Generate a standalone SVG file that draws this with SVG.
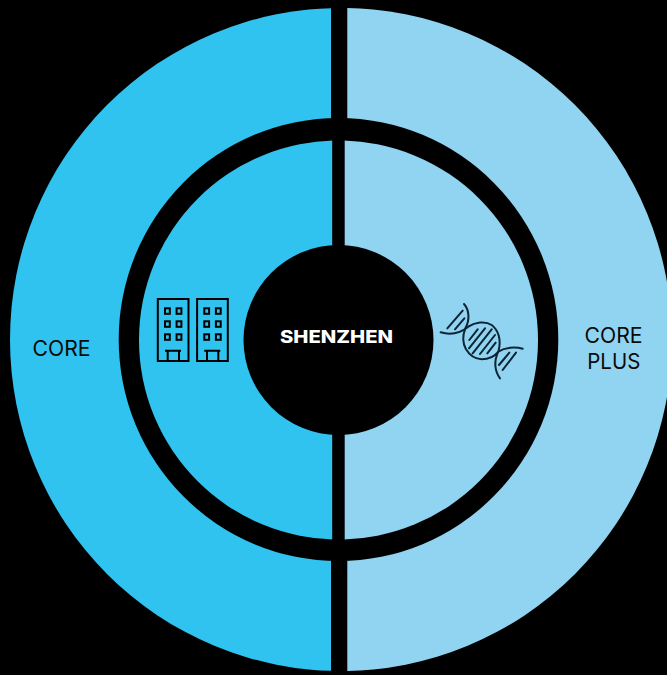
<svg xmlns="http://www.w3.org/2000/svg" width="667" height="675" viewBox="0 0 667 675">
<style>
.l{fill:#30c3ef}.r{fill:#90d4f1}
text{font-family:Inter,"Liberation Sans",Arial,sans-serif;font-size:21px;fill:#0a0a0a;text-anchor:middle}
.ic{fill:none;stroke:#000;stroke-width:2}
.dna{fill:none;stroke:#0c2433;stroke-width:6;stroke-linecap:round}
</style>
<defs>
<clipPath id="cl"><rect x="0" y="0" width="331" height="675"/></clipPath>
<clipPath id="cr"><rect x="347.300" y="0" width="320" height="675"/></clipPath>
<clipPath id="il"><rect x="0" y="0" width="332.200" height="675"/></clipPath>
<clipPath id="ir"><rect x="344.700" y="0" width="320" height="675"/></clipPath>
<g id="bld"><rect x="157.800" y="299" width="30.700" height="62"/><rect x="165" y="308.300" width="4.800" height="5.500"/><rect x="176.600" y="308.300" width="4.800" height="5.500"/><rect x="165" y="321.300" width="4.800" height="5.500"/><rect x="176.600" y="321.300" width="4.800" height="5.500"/><rect x="165" y="334.300" width="4.800" height="5.500"/><rect x="176.600" y="334.300" width="4.800" height="5.500"/><path d="M165 350.700H181M167.700 350.700V361M179 350.700V361"/></g>
</defs>
<rect width="667" height="675" fill="#000"/>
<g id="outer-core"><ellipse class="l" cx="341" cy="339.500" rx="331" ry="331.500" clip-path="url(#cl)"/></g>
<g id="outer-core-plus"><ellipse class="r" cx="341" cy="339.500" rx="331" ry="331.500" clip-path="url(#cr)"/></g>
<g id="ring"><ellipse cx="338.500" cy="339.500" rx="219.800" ry="221.500" fill="#000"/></g>
<g id="inner-core"><circle class="l" cx="338.500" cy="340" r="199.500" clip-path="url(#il)"/></g>
<g id="inner-core-plus"><circle class="r" cx="338.500" cy="340" r="199.500" clip-path="url(#ir)"/></g>
<g id="center"><circle cx="338.500" cy="340" r="95" fill="#000"/><text x="336.500" y="343" textLength="113" lengthAdjust="spacingAndGlyphs" style="font-size:17px;font-weight:800;fill:#fff">SHENZHEN</text></g>
<g id="label-core"><text x="61.500" y="355.700" textLength="58" lengthAdjust="spacingAndGlyphs">CORE</text></g>
<g id="label-core-plus"><text x="613.500" y="342.700" textLength="58" lengthAdjust="spacingAndGlyphs">CORE</text><text x="613.800" y="369" textLength="53" lengthAdjust="spacingAndGlyphs">PLUS</text></g>
<g id="icon-buildings" class="ic"><use href="#bld"/><use href="#bld" x="39.300"/></g>
<g id="icon-dna" class="dna" transform="translate(430 290) scale(.33333)">
<path d="M102 42C118 60 120 90 106 115C98 135 98 160 108 178C120 198 135 207 155 208C178 208 195 198 205 185C190 215 195 245 210 265"/>
<path d="M32 127C60 135 90 130 115 110C135 97 165 92 185 105C205 120 215 150 205 185C225 172 255 170 278 176"/>
<path d="M52 115L98 62M75 118L103 85M118 150L143 118M117 175L165 115M128 190L185 118M150 192L195 135M172 190L197 158M207 225L238 188M218 240L258 188"/>
</g>
</svg>
